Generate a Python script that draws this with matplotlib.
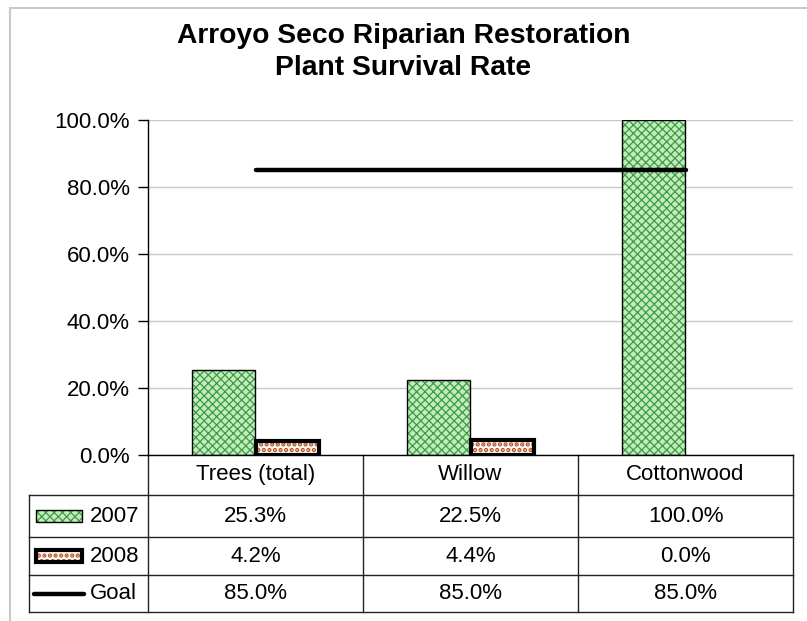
import numpy as np
import matplotlib
matplotlib.use("Agg")
import matplotlib.pyplot as plt
from matplotlib.patches import Rectangle
from matplotlib.ticker import PercentFormatter
from matplotlib.transforms import blended_transform_factory

plt.rcParams['font.family'] = ['Liberation Sans', 'DejaVu Sans']
plt.rcParams['hatch.linewidth'] = 0.9

# chart data
categories = ['Trees (total)', 'Willow', 'Cottonwood']
series_names = ['2007', '2008', 'Goal']
y2007 = [0.253, 0.225, 1.000]
y2008 = [0.042, 0.044, 0.000]
goal = [0.85, 0.85, 0.85]
yticks = [0.0, 0.2, 0.4, 0.6, 0.8, 1.0]

green_hatch = '#3a9e3a'
green_face = '#c4eac4'
brown_hatch = '#b9531c'
FS = 16


def thick_dots(patch):
    # bigger dots for the 2008 texture, if this matplotlib allows it
    if hasattr(patch, 'set_hatch_linewidth'):
        patch.set_hatch_linewidth(2.2)


fig = plt.figure(figsize=(8.07, 6.21), dpi=100)
ax = fig.add_axes([148 / 807, 1 - 455 / 621, 645 / 807, 335 / 621])

x = np.arange(len(categories))
bw = 0.293
off = 0.147

# 2007 bars: hatch then outline
ax.bar(x - off, y2007, bw, facecolor=green_face, edgecolor=green_hatch,
       hatch='xxxx', linewidth=0, zorder=2)
ax.bar(x - off, y2007, bw, fill=False, edgecolor='black', linewidth=1.0, zorder=3)

# 2008 bars (skip empty ones)
for xi, v in zip(x, y2008):
    if v <= 0:
        continue
    bars = ax.bar(xi + off, v, bw, facecolor='white', edgecolor=brown_hatch,
                  hatch='...', linewidth=0, zorder=2)
    for b in bars:
        thick_dots(b)
    ax.bar(xi + off, v, bw, fill=False, edgecolor='black', linewidth=3.0, zorder=3)

ax.plot(x, goal, color='black', linewidth=3.2, solid_capstyle='round', zorder=4)

ax.set_xlim(-0.5, len(categories) - 0.5)
ax.set_ylim(0, 1.0)
ax.set_yticks(yticks)
ax.yaxis.set_major_formatter(PercentFormatter(1.0, decimals=1))
ax.tick_params(axis='y', labelsize=FS, length=7, width=1, direction='out', pad=6)
ax.set_xticks([])
ax.yaxis.grid(True, color='#c8c8c8', linewidth=1.0, zorder=0)
ax.set_axisbelow(True)
for s in ['top', 'right']:
    ax.spines[s].set_visible(False)
ax.spines['left'].set_linewidth(1.0)
ax.spines['bottom'].set_linewidth(1.0)

# data table below the plot
tr = blended_transform_factory(ax.transData, ax.transAxes)
lab_left = -0.5 - 119 / 215
row_edges = [0.0, -0.1194, -0.2448, -0.3582, -0.4687]
line_kw = dict(color='#222222', linewidth=1.0, transform=tr, clip_on=False)

for ye in row_edges[1:]:
    ax.plot([lab_left, len(categories) - 0.5], [ye, ye], **line_kw)
for xe in np.arange(len(categories) + 1) - 0.5:
    ax.plot([xe, xe], [row_edges[0], row_edges[-1]], **line_kw)
ax.plot([lab_left, lab_left], [row_edges[1], row_edges[-1]], **line_kw)

header_y = (row_edges[0] + row_edges[1]) / 2
for xi, c in zip(x, categories):
    ax.text(xi, header_y, c, ha='center', va='center', fontsize=FS, transform=tr)

rows = [y2007, y2008, goal]
for r, vals in enumerate(rows):
    yc = (row_edges[r + 1] + row_edges[r + 2]) / 2
    for xi, v in zip(x, vals):
        ax.text(xi, yc, f"{v * 100:.1f}%", ha='center', va='center',
                fontsize=FS, transform=tr)
    ax.text(-0.77, yc, series_names[r], ha='left', va='center', fontsize=FS,
            transform=tr)

# legend keys in row labels
key_x0, key_x1 = -1.021, -0.807
key_h = 0.033
yc0 = (row_edges[1] + row_edges[2]) / 2
ax.add_patch(Rectangle((key_x0, yc0 - key_h / 2), key_x1 - key_x0, key_h,
                       facecolor=green_face, edgecolor=green_hatch, hatch='xxxx',
                       linewidth=0, transform=tr, clip_on=False))
ax.add_patch(Rectangle((key_x0, yc0 - key_h / 2), key_x1 - key_x0, key_h,
                       fill=False, edgecolor='black', linewidth=1.0,
                       transform=tr, clip_on=False))
yc1 = (row_edges[2] + row_edges[3]) / 2
key08 = Rectangle((key_x0, yc1 - key_h / 2), key_x1 - key_x0, key_h,
                  facecolor='white', edgecolor=brown_hatch, hatch='...',
                  linewidth=0, transform=tr, clip_on=False)
thick_dots(key08)
ax.add_patch(key08)
ax.add_patch(Rectangle((key_x0, yc1 - key_h / 2), key_x1 - key_x0, key_h,
                       fill=False, edgecolor='black', linewidth=3.0,
                       transform=tr, clip_on=False))
yc2 = (row_edges[3] + row_edges[4]) / 2
ax.plot([key_x0 - 0.01, key_x1 + 0.01], [yc2, yc2], color='black', linewidth=3.2,
        solid_capstyle='round', transform=tr, clip_on=False)

# title
fig.text(0.5, 1 - 52 / 621, "Arroyo Seco Riparian Restoration\nPlant Survival Rate",
         ha='center', va='center', fontsize=20.3, fontweight='bold', linespacing=1.3)

# outer chart border
fig.add_artist(Rectangle((10 / 807, -0.5), 2.0, 0.5 + 1 - 8 / 621, fill=False,
                         edgecolor='#c8c8c8', linewidth=1.5,
                         transform=fig.transFigure))

fig.savefig('out.png', dpi=100)
